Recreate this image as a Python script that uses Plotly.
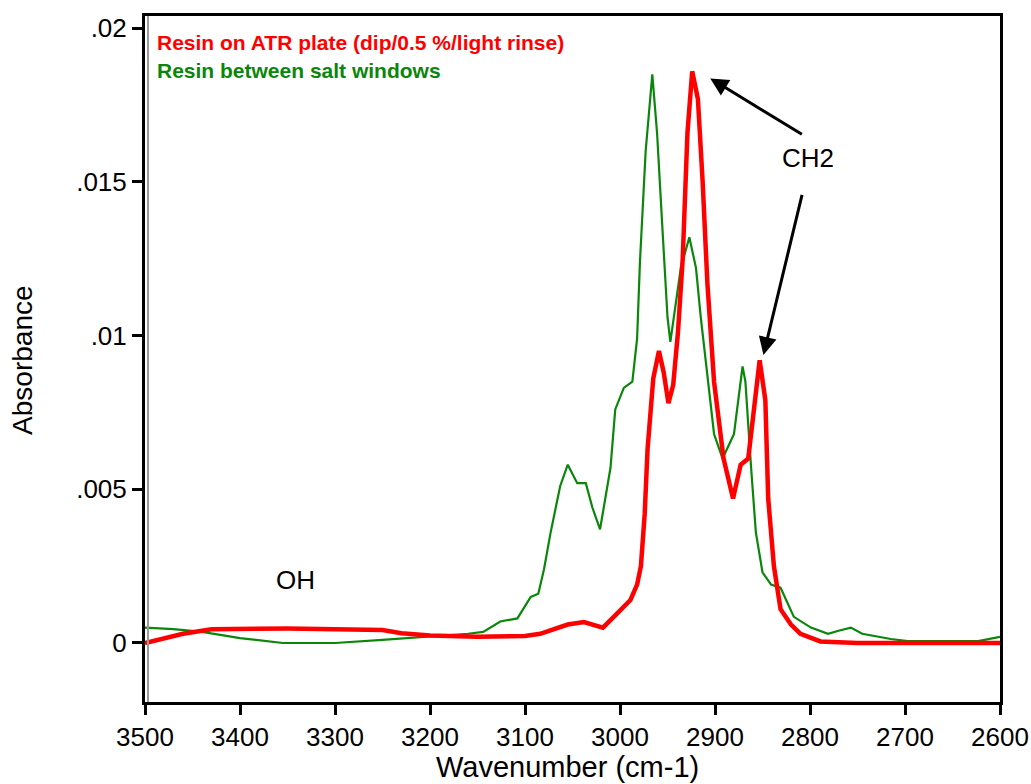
import plotly.graph_objects as go

wn_red = [3500, 3480, 3460, 3430, 3400, 3350, 3300, 3250, 3230, 3200, 3150, 3100, 3084, 3065, 3055,
          3038, 3028, 3018, 3005, 2995, 2989, 2982, 2978, 2974, 2971, 2965, 2959, 2954, 2949, 2944,
          2939, 2934, 2929, 2924, 2918, 2913, 2908, 2901, 2891, 2881, 2873, 2865, 2859, 2853, 2847,
          2844, 2838, 2831, 2820, 2810, 2789, 2750, 2700, 2650, 2600]
abs_red = [0.0, 0.00015, 0.0003, 0.00045, 0.00046, 0.00047, 0.00045, 0.00042, 0.00032, 0.00024,
           0.0002, 0.00023, 0.0003, 0.00052, 0.0006, 0.00068, 0.0006, 0.0005, 0.0009, 0.0012,
           0.0014, 0.0019, 0.0025, 0.0042, 0.0063, 0.0086, 0.0095, 0.0088, 0.0078, 0.0084,
           0.0101, 0.0125, 0.0166, 0.0186, 0.0177, 0.015, 0.0117, 0.0085, 0.006, 0.0047,
           0.0058, 0.006, 0.0076, 0.0092, 0.0079, 0.0047, 0.0025, 0.0011, 0.0006, 0.0003,
           0.00005, 0.0, 0.0, 0.0, 0.0]

wn_green = [3500, 3470, 3440, 3400, 3355, 3300, 3250, 3200, 3160, 3144, 3126, 3108, 3094, 3086,
            3080, 3073, 3063, 3055, 3045, 3036, 3029, 3021, 3010, 3005, 2996, 2987, 2982, 2979,
            2973, 2966, 2961, 2955, 2950, 2947, 2936, 2927, 2920, 2915, 2907, 2901, 2892, 2880,
            2871, 2868, 2862, 2857, 2850, 2841, 2831, 2817, 2799, 2781, 2770, 2757, 2745, 2715,
            2697, 2623, 2600]
abs_green = [0.0005, 0.00045, 0.00036, 0.00016, 0.0, 0.0, 0.0001, 0.0002, 0.0003, 0.00036, 0.0007,
             0.0008, 0.0015, 0.0016, 0.0024, 0.0036, 0.0051, 0.0058, 0.0052, 0.0052, 0.0044,
             0.0037, 0.0057, 0.0076, 0.0083, 0.0085, 0.0099, 0.0124, 0.016, 0.0185, 0.0166,
             0.0133, 0.0106, 0.0098, 0.0122, 0.0132, 0.0122, 0.0106, 0.0085, 0.0068, 0.006,
             0.0068, 0.009, 0.0085, 0.0057, 0.0036, 0.0023, 0.0019, 0.0018, 0.00085, 0.0005,
             0.0003, 0.0004, 0.0005, 0.0003, 0.00013, 0.00006, 0.00006, 0.0002]

x_ticks = [3500, 3400, 3300, 3200, 3100, 3000, 2900, 2800, 2700, 2600]
y_ticks = [0, 0.005, 0.01, 0.015, 0.02]
y_tick_labels = ["0", ".005", ".01", ".015", ".02"]

FONT = "Arial, Liberation Sans, sans-serif"

fig = go.Figure()
fig.add_trace(go.Scatter(x=wn_green, y=abs_green, mode="lines",
                         line=dict(color="#0a870a", width=2.2), name="Resin between salt windows"))
fig.add_trace(go.Scatter(x=wn_red, y=abs_red, mode="lines",
                         line=dict(color="#ff0000", width=4.5), name="Resin on ATR plate"))

fig.update_layout(
    width=1031, height=784,
    margin=dict(l=145, r=31, t=16, b=82, autoexpand=False),
    paper_bgcolor="white", plot_bgcolor="white",
    showlegend=False,
    font=dict(family=FONT, color="black", size=26),
)
fig.update_xaxes(range=[3500, 2600], tickvals=x_ticks, ticks="outside", ticklen=10, tickwidth=3,
                 tickcolor="black", showline=True, linewidth=3, linecolor="black", mirror=True,
                 showgrid=False, zeroline=False, tickfont=dict(size=26), automargin=False)
fig.update_yaxes(range=[-0.00192, 0.0204], tickvals=y_ticks, ticktext=y_tick_labels,
                 ticks="outside", ticklen=10, tickwidth=3, tickcolor="black", showline=True,
                 linewidth=3, linecolor="black", mirror=True, showgrid=False, zeroline=False,
                 tickfont=dict(size=26), automargin=False)

# inner grey shadow of the frame
fig.add_shape(type="line", xref="paper", yref="paper", x0=0.0035, x1=0.0035, y0=0, y1=1,
              line=dict(color="#9a9a9a", width=2))

# axis titles
fig.add_annotation(xref="paper", yref="paper", x=-0.144, y=0.4985, xanchor="center",
                   yanchor="middle", text="Absorbance", textangle=-90, showarrow=False,
                   font=dict(size=28))
fig.add_annotation(xref="paper", yref="paper", x=0.4936, y=-0.0948, xanchor="center",
                   yanchor="middle", text="Wavenumber (cm-1)", showarrow=False,
                   font=dict(size=29))

fig.add_annotation(xref="paper", yref="paper", x=0.012, y=0.962, xanchor="left", yanchor="middle",
                   text="<b>Resin on ATR plate (dip/0.5 %/light rinse)</b>", showarrow=False,
                   font=dict(color="#ff0000", size=21))
fig.add_annotation(xref="paper", yref="paper", x=0.012, y=0.92, xanchor="left", yanchor="middle",
                   text="<b>Resin between salt windows</b>", showarrow=False,
                   font=dict(color="#0a870a", size=21))
fig.add_annotation(x=3342, y=0.00205, text="OH", showarrow=False, font=dict(size=26))
fig.add_annotation(x=2802, y=0.01577, text="CH2", showarrow=False, font=dict(size=26))
fig.add_annotation(x=2905, y=0.01837, ax=2807, ay=0.01652, axref="x", ayref="y", text="",
                   showarrow=True, arrowhead=2, arrowsize=1.2, arrowwidth=3, arrowcolor="black")
fig.add_annotation(x=2849, y=0.00937, ax=2808, ay=0.01463, axref="x", ayref="y", text="",
                   showarrow=True, arrowhead=2, arrowsize=1.2, arrowwidth=3, arrowcolor="black")

fig.write_html("out.html")
